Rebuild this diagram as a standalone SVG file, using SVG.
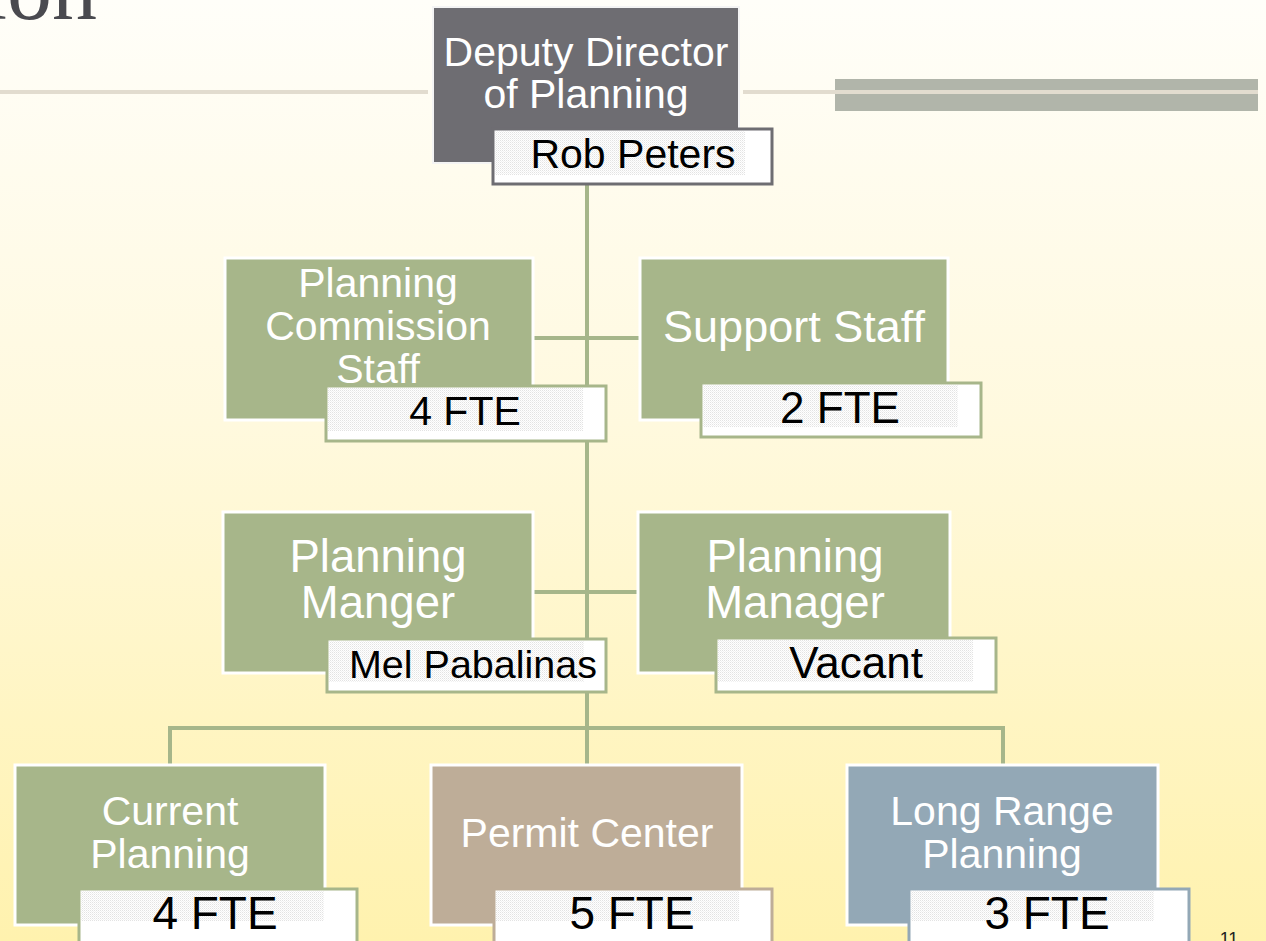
<svg xmlns="http://www.w3.org/2000/svg" width="1266" height="941" viewBox="0 0 1266 941">
  <defs>
    <linearGradient id="bg" x1="0" y1="0" x2="0" y2="1">
      <stop offset="0" stop-color="#FFFEF9"/>
      <stop offset="0.45" stop-color="#FFF9DE"/>
      <stop offset="1" stop-color="#FFF2AE"/>
    </linearGradient>
    <pattern id="dots" width="2" height="2" patternUnits="userSpaceOnUse">
      <rect width="2" height="2" fill="#FFFFFF"/>
      <rect width="1" height="1" fill="#DCDCDC"/>
      <rect x="1" y="1" width="1" height="1" fill="#EEEEEE"/>
    </pattern>
    <style>
      .conn { stroke: #A6B68A; stroke-width: 4; fill: none; }
      .node { stroke: #FFFFFF; stroke-width: 3; }
      .green { fill: #A7B68A; }
      .tan { fill: #BEAD98; }
      .blue { fill: #93A8B6; }
      .ntext { font-family: "Liberation Sans", Arial, sans-serif; fill: #FFFFFF; text-anchor: middle; }
      .ltext { font-family: "Liberation Sans", Arial, sans-serif; fill: #000000; text-anchor: middle; }
      .lbox { fill: #FFFFFF; stroke-width: 3; }
    </style>
  </defs>

  <rect x="0" y="0" width="1266" height="941" fill="url(#bg)"/>

  <!-- title remnant -->
  <text x="97" y="19" font-family="Liberation Serif, 'Times New Roman', serif" font-size="90" fill="#4A4A4F" text-anchor="end">ion</text>
  <rect x="0" y="90" width="428" height="4" fill="#E2DCCF"/>
  <rect x="835" y="79" width="423" height="32" fill="#B1B5AA"/>
  <rect x="743" y="90" width="515" height="4" fill="#E2DCCF"/>

  <g id="connectors">
    <line class="conn" x1="587" y1="185" x2="587" y2="765"/>
    <line class="conn" x1="533" y1="338" x2="640" y2="338"/>
    <line class="conn" x1="533" y1="592" x2="640" y2="592"/>
    <polyline class="conn" points="170,765 170,728 1003,728 1003,765"/>
  </g>

  <g id="deputy-director">
    <rect x="433" y="7" width="306" height="156" fill="#6E6D72" stroke="#F4F4F4" stroke-width="2"/>
    <text class="ntext" x="586" y="66" font-size="41">Deputy Director</text>
    <text class="ntext" x="586" y="108" font-size="41">of Planning</text>
    <rect class="lbox" x="493" y="129" width="279" height="55" stroke="#6E6D72"/>
    <rect x="495" y="131" width="250" height="44" fill="url(#dots)" opacity="0.8"/>
    <text class="ltext" x="633" y="168" font-size="41">Rob Peters</text>
  </g>

  <g id="planning-commission-staff">
    <rect class="node green" x="225" y="258" width="308" height="162"/>
    <text class="ntext" x="378" y="297" font-size="41">Planning</text>
    <text class="ntext" x="378" y="340" font-size="41">Commission</text>
    <text class="ntext" x="378" y="383" font-size="41">Staff</text>
    <rect class="lbox" x="326" y="386" width="280" height="55" stroke="#A7B68A"/>
    <rect x="328" y="388" width="255" height="43" fill="url(#dots)" opacity="0.8"/>
    <text class="ltext" x="465" y="425" font-size="41">4 FTE</text>
  </g>

  <g id="support-staff">
    <rect class="node green" x="640" y="258" width="308" height="162"/>
    <text class="ntext" x="794" y="342" font-size="45">Support Staff</text>
    <rect class="lbox" x="701" y="383" width="280" height="54" stroke="#A7B68A"/>
    <rect x="703" y="385" width="255" height="42" fill="url(#dots)" opacity="0.8"/>
    <text class="ltext" x="840" y="423" font-size="44">2 FTE</text>
  </g>

  <g id="planning-manger">
    <rect class="node green" x="223" y="512" width="310" height="161"/>
    <text class="ntext" x="378" y="572" font-size="45.5">Planning</text>
    <text class="ntext" x="378" y="618" font-size="45.5">Manger</text>
    <rect class="lbox" x="327" y="639" width="279" height="53" stroke="#A7B68A"/>
    <rect x="329" y="641" width="255" height="41" fill="url(#dots)" opacity="0.8"/>
    <text class="ltext" x="473" y="678" font-size="39.5">Mel Pabalinas</text>
  </g>

  <g id="planning-manager">
    <rect class="node green" x="638" y="512" width="312" height="161"/>
    <text class="ntext" x="795" y="572" font-size="45.5">Planning</text>
    <text class="ntext" x="795" y="618" font-size="45.5">Manager</text>
    <rect class="lbox" x="716" y="638" width="280" height="54" stroke="#A7B68A"/>
    <rect x="718" y="640" width="255" height="42" fill="url(#dots)" opacity="0.8"/>
    <text class="ltext" x="856" y="678" font-size="44">Vacant</text>
  </g>

  <g id="current-planning">
    <rect class="node green" x="15" y="765" width="310" height="160"/>
    <text class="ntext" x="170" y="825" font-size="41">Current</text>
    <text class="ntext" x="170" y="868" font-size="41">Planning</text>
    <rect class="lbox" x="79" y="889" width="278" height="60" stroke="#A7B68A"/>
    <rect x="81" y="891" width="243" height="30" fill="url(#dots)" opacity="0.8"/>
    <text class="ltext" x="215" y="929" font-size="46">4 FTE</text>
  </g>

  <g id="permit-center">
    <rect class="node tan" x="431" y="765" width="311" height="160"/>
    <text class="ntext" x="587" y="847" font-size="41">Permit Center</text>
    <rect class="lbox" x="494" y="889" width="278" height="60" stroke="#BEAD98"/>
    <rect x="496" y="891" width="243" height="30" fill="url(#dots)" opacity="0.8"/>
    <text class="ltext" x="632" y="929" font-size="46">5 FTE</text>
  </g>

  <g id="long-range-planning">
    <rect class="node blue" x="847" y="765" width="311" height="160"/>
    <text class="ntext" x="1002" y="825" font-size="41">Long Range</text>
    <text class="ntext" x="1002" y="868" font-size="41">Planning</text>
    <rect class="lbox" x="909" y="889" width="280" height="60" stroke="#93A8B6"/>
    <rect x="911" y="891" width="243" height="30" fill="url(#dots)" opacity="0.8"/>
    <text class="ltext" x="1047" y="929" font-size="46">3 FTE</text>
  </g>

  <text x="1229" y="945" font-family="Liberation Sans, Arial, sans-serif" font-size="18" fill="#222222" text-anchor="middle">11</text>
</svg>
